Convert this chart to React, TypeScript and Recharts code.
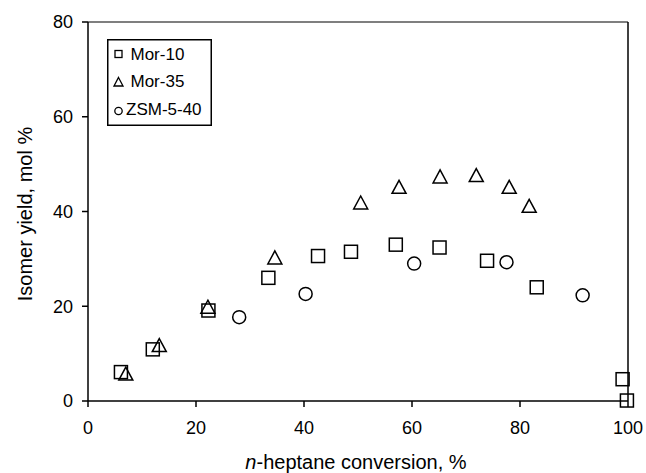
import React from "react";
import {
  ScatterChart,
  Scatter,
  XAxis,
  YAxis,
  ReferenceLine,
} from "recharts";

const mor10X = [6.1, 12.0, 22.3, 33.4, 42.6, 48.7, 57.0, 65.1, 73.9, 83.1, 99.0, 99.8];
const mor10Y = [6.1, 10.9, 19.1, 26.0, 30.6, 31.5, 33.0, 32.4, 29.6, 24.0, 4.6, 0.1];
const mor35X = [7.0, 13.2, 22.2, 34.6, 50.5, 57.6, 65.2, 71.9, 78.0, 81.7];
const mor35Y = [5.8, 11.8, 19.9, 30.3, 41.9, 45.2, 47.4, 47.7, 45.2, 41.2];
const zsmX = [28.0, 40.3, 60.4, 77.5, 91.6];
const zsmY = [17.7, 22.6, 29.0, 29.3, 22.3];
const xTicks = [0, 20, 40, 60, 80, 100];
const yTicks = [0, 20, 40, 60, 80];
const seriesNames = ["Mor-10", "Mor-35", "ZSM-5-40"];

const zip = (xs: number[], ys: number[]) => xs.map((x, i) => ({ x, y: ys[i] }));
const mor10 = zip(mor10X, mor10Y);
const mor35 = zip(mor35X, mor35Y);
const zsm = zip(zsmX, zsmY);

const FONT = "'Liberation Sans', Arial, sans-serif";
const SW = 1.5;

const Square = (p: any) => {
  const s = 13;
  return (
    <rect x={p.cx - s / 2} y={p.cy - s / 2} width={s} height={s} fill="none" stroke="#000" strokeWidth={SW} />
  );
};
const Triangle = (p: any) => {
  const w = 14, h = 13;
  const { cx, cy } = p;
  return (
    <polygon
      points={`${cx},${cy - h / 2} ${cx + w / 2},${cy + h / 2} ${cx - w / 2},${cy + h / 2}`}
      fill="none"
      stroke="#000"
      strokeWidth={SW}
    />
  );
};
const Circle = (p: any) => (
  <circle cx={p.cx} cy={p.cy} r={6.5} fill="none" stroke="#000" strokeWidth={SW} />
);

const XLabel = () => (
  <text x={356} y={469} textAnchor="middle" fontFamily={FONT} fontSize={20} fill="#000">
    <tspan fontStyle="italic">n</tspan>
    <tspan>-heptane conversion, %</tspan>
  </text>
);
const YLabel = () => (
  <text
    x={32}
    y={214}
    textAnchor="middle"
    fontFamily={FONT}
    fontSize={20}
    fill="#000"
    transform="rotate(-90, 32, 214)"
  >
    Isomer yield, mol %
  </text>
);

const tickStyle = { fontFamily: FONT, fontSize: 18, fill: "#000" };

export default function App() {
  return (
    <div style={{ position: "absolute", left: 0, top: 0, width: 646, height: 473, background: "#fff" }}>
      <ScatterChart width={646} height={473} margin={{ top: 22, right: 18, left: 0, bottom: 0 }}>
        <XAxis
          type="number"
          dataKey="x"
          domain={[0, 100]}
          ticks={xTicks}
          height={72}
          tickSize={6}
          tickMargin={14}
          tick={tickStyle}
          axisLine={{ stroke: "#000", strokeWidth: 1.5 }}
          tickLine={{ stroke: "#000", strokeWidth: 1.5 }}
          label={<XLabel />}
        />
        <YAxis
          type="number"
          dataKey="y"
          domain={[0, 80]}
          ticks={yTicks}
          width={88}
          tickSize={6}
          tickMargin={9}
          tick={tickStyle}
          axisLine={{ stroke: "#000", strokeWidth: 1.5 }}
          tickLine={{ stroke: "#000", strokeWidth: 1.5 }}
          label={<YLabel />}
        />
        <ReferenceLine y={80} stroke="#000" strokeWidth={1.2} />
        <ReferenceLine x={100} stroke="#000" strokeWidth={1.5} />
        <Scatter name={seriesNames[0]} data={mor10} shape={Square} isAnimationActive={false} />
        <Scatter name={seriesNames[1]} data={mor35} shape={Triangle} isAnimationActive={false} />
        <Scatter name={seriesNames[2]} data={zsm} shape={Circle} isAnimationActive={false} />
      </ScatterChart>
      <div style={{ position: "absolute", left: 107, top: 39, width: 105, height: 87 }}>
        <svg width={105} height={87}>
          <rect x={0.75} y={0.75} width={103.5} height={85.5} fill="#fff" stroke="#000" strokeWidth={1.5} />
          <rect x={8} y={11.5} width={7} height={7} fill="none" stroke="#000" strokeWidth={1.3} />
          <polygon points="11.5,38.5 16,47 7,47" fill="none" stroke="#000" strokeWidth={1.3} />
          <circle cx={11.5} cy={72} r={3.7} fill="none" stroke="#000" strokeWidth={1.3} />
          <text x={23.5} y={20.5} fontFamily={FONT} fontSize={17} fill="#000">{seriesNames[0]}</text>
          <text x={23.5} y={48} fontFamily={FONT} fontSize={17} fill="#000">{seriesNames[1]}</text>
          <text x={19} y={75.5} fontFamily={FONT} fontSize={17} fill="#000">{seriesNames[2]}</text>
        </svg>
      </div>
    </div>
  );
}
